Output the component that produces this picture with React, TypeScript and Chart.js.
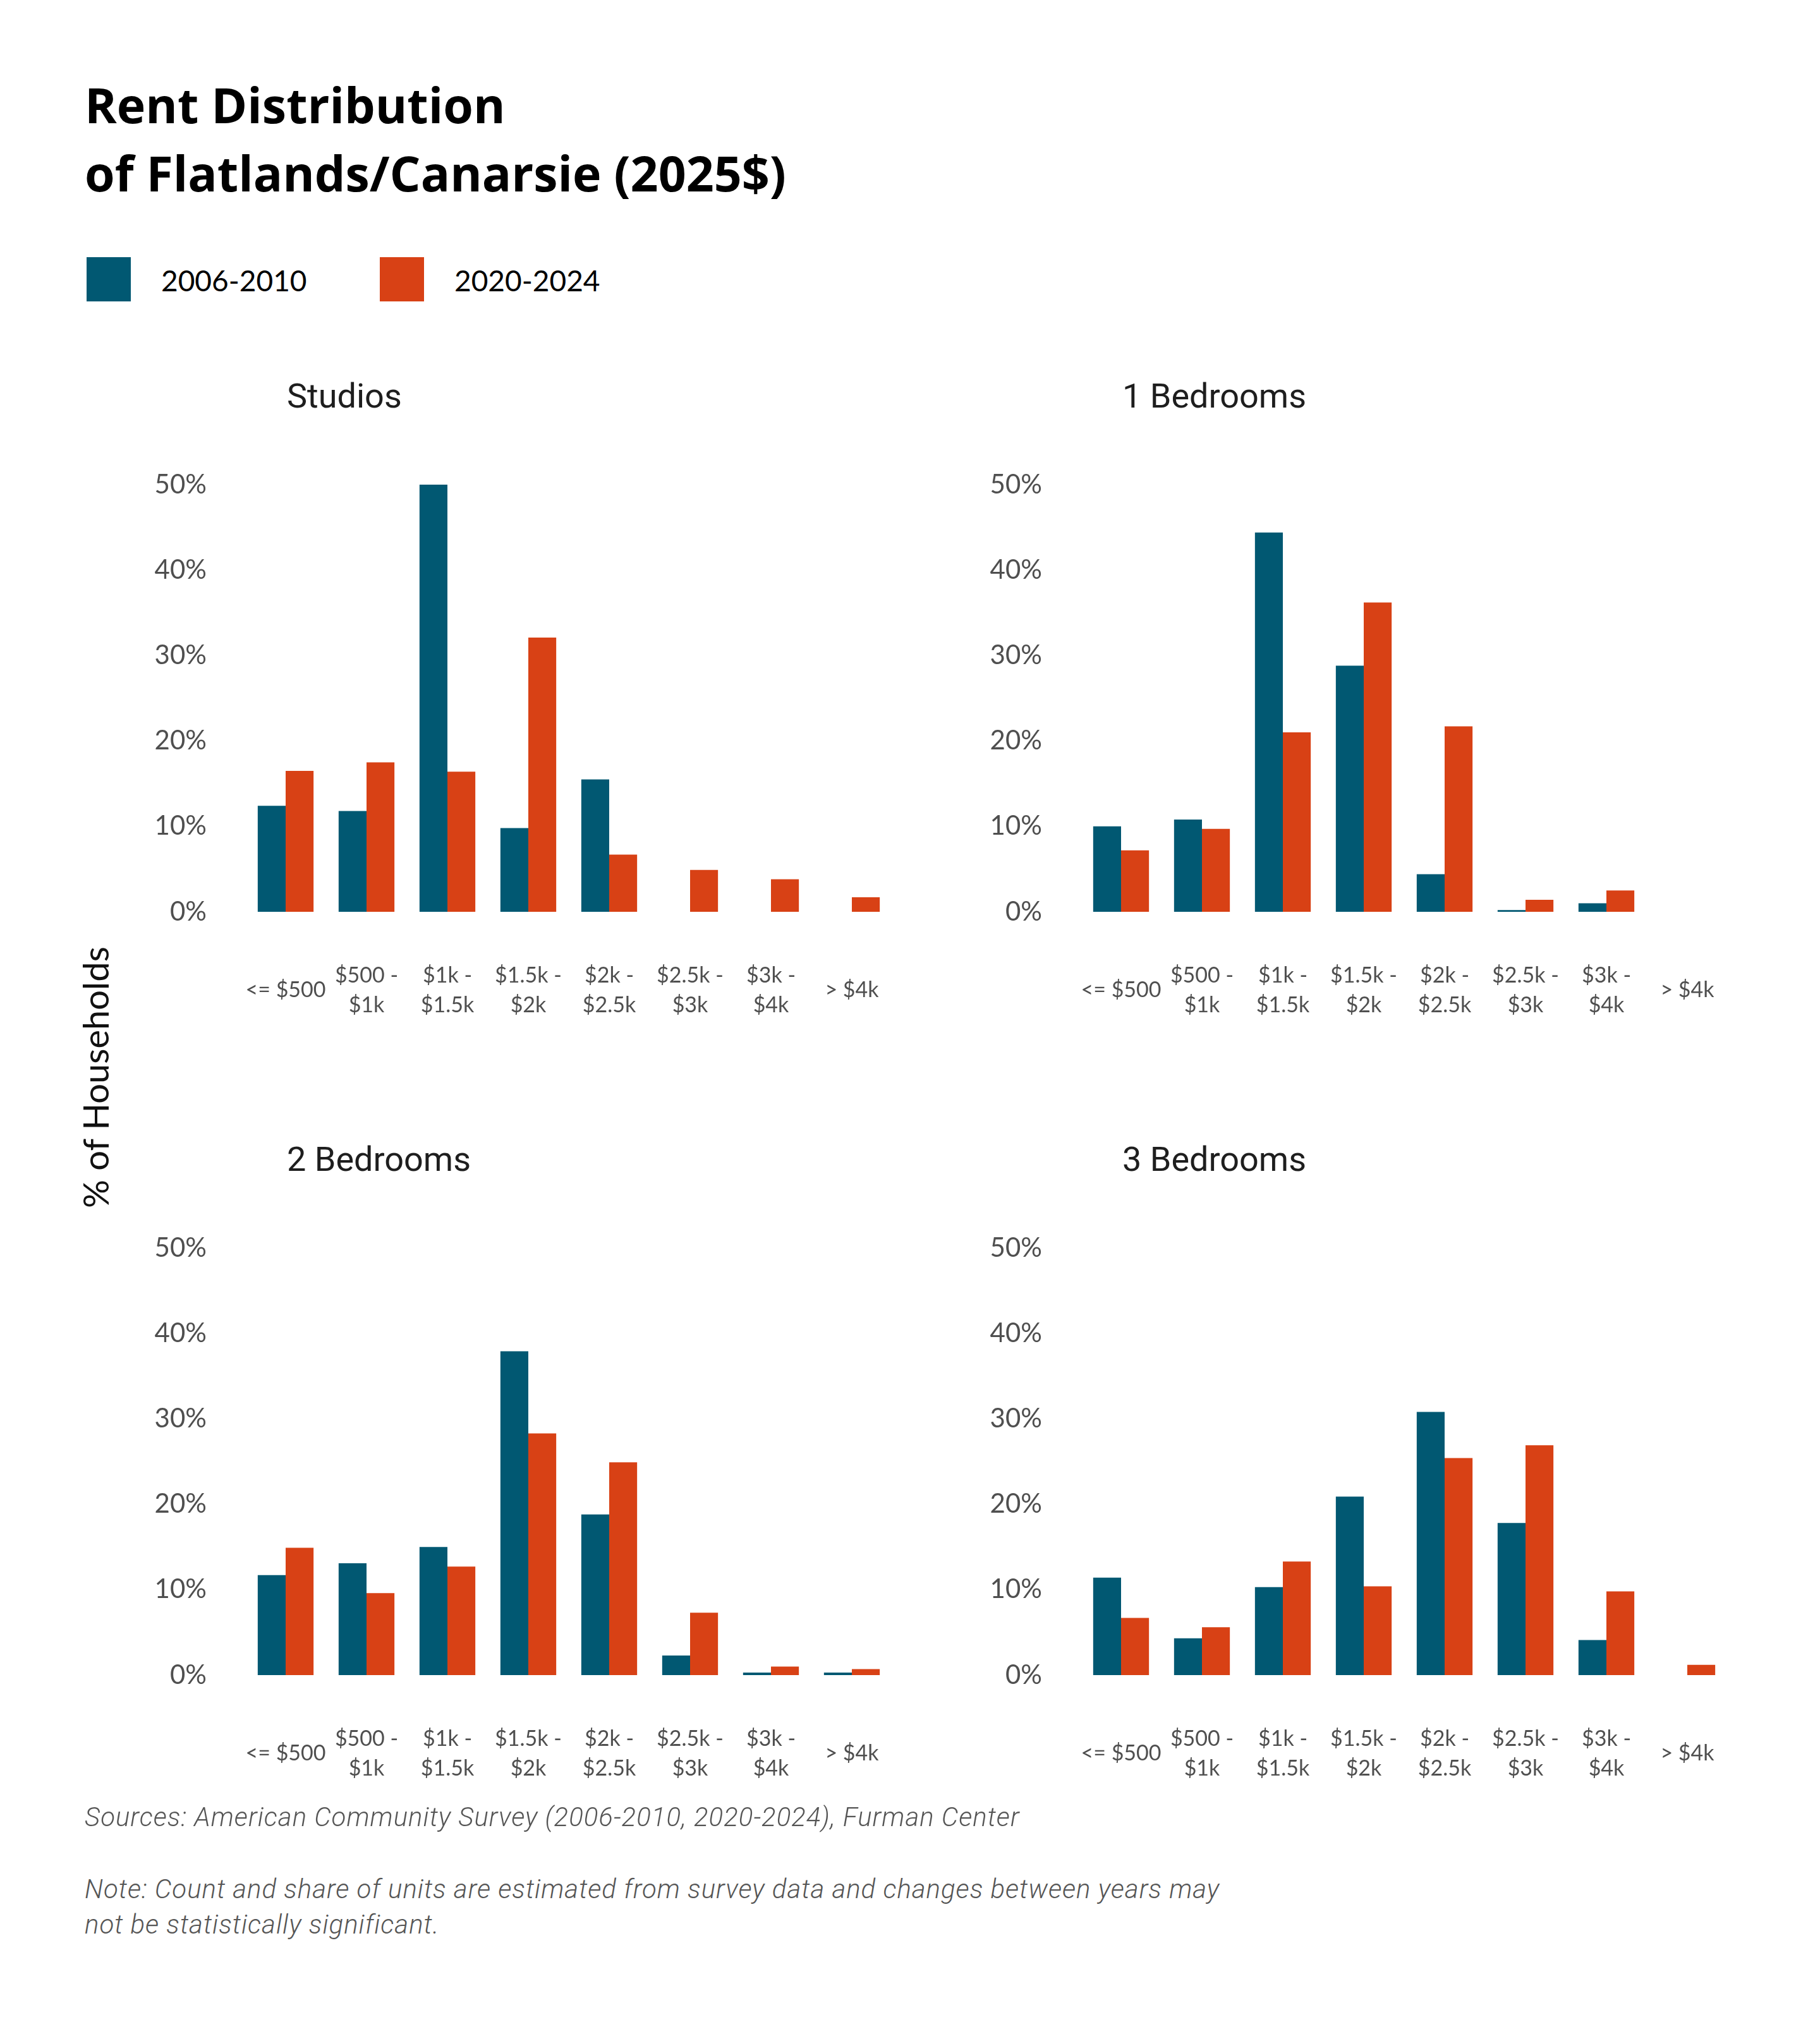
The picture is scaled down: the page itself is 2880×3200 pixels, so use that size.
import { useEffect, useRef } from "react";
import { Chart, registerables, type ChartConfiguration } from "chart.js";

Chart.register(...registerables);

const rentBands: (string | string[])[] = [
  "<= $500",
  ["$500 -", "$1k"],
  ["$1k -", "$1.5k"],
  ["$1.5k -", "$2k"],
  ["$2k -", "$2.5k"],
  ["$2.5k -", "$3k"],
  ["$3k -", "$4k"],
  "> $4k",
];

const periods = ["2006-2010", "2020-2024"];
const yTicks = [0, 10, 20, 30, 40, 50];

const studios2010 = [12.4, 11.8, 50.0, 9.8, 15.5, 0, 0, 0];
const studios2024 = [16.5, 17.5, 16.4, 32.1, 6.7, 4.9, 3.8, 1.7];
const oneBed2010 = [10.0, 10.8, 44.4, 28.8, 4.4, 0.2, 1.0, 0];
const oneBed2024 = [7.2, 9.7, 21.0, 36.2, 21.7, 1.4, 2.5, 0];
const twoBed2010 = [11.7, 13.1, 15.0, 37.9, 18.8, 2.3, 0.3, 0.3];
const twoBed2024 = [14.9, 9.6, 12.7, 28.3, 24.9, 7.3, 1.0, 0.7];
const threeBed2010 = [11.4, 4.3, 10.3, 20.9, 30.8, 17.8, 4.1, 0];
const threeBed2024 = [6.7, 5.6, 13.3, 10.4, 25.4, 26.9, 9.8, 1.2];

const BLUE = "#015872";
const RED = "#d84115";
const TICK_GREY = "#4f4f4f";

// geometry of one small-multiple (page px)
const PANEL_W = 1240;
const PANEL_H = 943;
const Y_AXIS_W = 188;
const X_AXIS_H = 200;

function Panel({
  title,
  older,
  newer,
  left,
  top,
}: {
  title: string;
  older: number[];
  newer: number[];
  left: number;
  top: number;
}) {
  const canvasRef = useRef<HTMLCanvasElement>(null);
  const chartRef = useRef<Chart | null>(null);

  useEffect(() => {
    if (!canvasRef.current) return;
    const cfg: ChartConfiguration<"bar", number[], string | string[]> = {
      type: "bar",
      data: {
        labels: rentBands,
        datasets: [
          { label: periods[0], data: older, backgroundColor: BLUE, borderWidth: 0 },
          { label: periods[1], data: newer, backgroundColor: RED, borderWidth: 0 },
        ],
      },
      options: {
        animation: false,
        responsive: true,
        maintainAspectRatio: false,
        layout: { padding: { top: 67, right: 28, bottom: 0, left: 0 } },
        datasets: { bar: { categoryPercentage: 0.69, barPercentage: 1.0 } },
        scales: {
          x: {
            grid: { display: false, drawTicks: false },
            border: { display: false },
            ticks: {
              color: TICK_GREY,
              font: { family: "Lato", size: 34, lineHeight: 47 / 34 },
              padding: 101,
              maxRotation: 0,
              autoSkip: false,
              crossAlign: "center",
            },
            afterFit: (scale) => {
              scale.height = X_AXIS_H;
              scale.paddingLeft = 0;
              scale.paddingRight = 0;
            },
          },
          y: {
            min: 0,
            max: 50,
            grid: { display: false, drawTicks: false },
            border: { display: false },
            afterBuildTicks: (scale) => {
              scale.ticks = yTicks.map((v) => ({ value: v }));
            },
            ticks: {
              color: TICK_GREY,
              font: { family: "Lato", size: 42 },
              padding: 61,
              callback: (v) => `${v}%`,
            },
            afterFit: (scale) => {
              scale.width = Y_AXIS_W;
              scale.paddingTop = 0;
              scale.paddingBottom = 0;
            },
          },
        },
        plugins: {
          legend: { display: false },
          tooltip: { enabled: false },
        },
      },
    };
    chartRef.current = new Chart(canvasRef.current, cfg);
    return () => {
      chartRef.current?.destroy();
      chartRef.current = null;
    };
  }, [older, newer]);

  return (
    <>
      <div
        style={{
          position: "absolute",
          left: left + 254,
          top: top - 100,
          font: "54px Roboto",
          color: "#1e1e1e",
          lineHeight: "54px",
          whiteSpace: "nowrap",
        }}
      >
        {title}
      </div>
      <div
        style={{
          position: "absolute",
          left,
          top,
          width: PANEL_W,
          height: PANEL_H,
        }}
      >
        <canvas ref={canvasRef} />
      </div>
    </>
  );
}

export default function App() {
  return (
    <div
      style={{
        position: "absolute",
        left: 0,
        top: 0,
        width: 2880,
        height: 3200,
        background: "#ffffff",
        overflow: "hidden",
      }}
    >
      <div
        style={{
          position: "absolute",
          left: 134,
          top: 112,
          font: "700 77px 'Open Sans'",
          lineHeight: "108px",
          color: "#000",
        }}
      >
        Rent Distribution
        <br />
        of Flatlands/Canarsie (2025$)
      </div>

      {/* legend */}
      {[BLUE, RED].map((c, i) => (
        <div key={periods[i]}>
          <div
            style={{
              position: "absolute",
              left: 137 + i * 464,
              top: 407,
              width: 70,
              height: 70,
              background: c,
            }}
          />
          <div
            style={{
              position: "absolute",
              left: 255 + i * 464,
              top: 414,
              font: "46px Lato",
              lineHeight: "60px",
              color: "#000",
            }}
          >
            {periods[i]}
          </div>
        </div>
      ))}

      <div
        style={{
          position: "absolute",
          left: 150,
          top: 1705,
          transform: "translate(-50%, -50%) rotate(-90deg)",
          font: "56px Lato",
          color: "#111",
          whiteSpace: "nowrap",
        }}
      >
        % of Households
      </div>

      <Panel title="Studios" older={studios2010} newer={studios2024} left={200} top={700} />
      <Panel title="1 Bedrooms" older={oneBed2010} newer={oneBed2024} left={1522} top={700} />
      <Panel title="2 Bedrooms" older={twoBed2010} newer={twoBed2024} left={200} top={1908} />
      <Panel title="3 Bedrooms" older={threeBed2010} newer={threeBed2024} left={1522} top={1908} />

      <div
        style={{
          position: "absolute",
          left: 134,
          top: 2848,
          font: "italic 300 42px Roboto",
          color: "#555",
          lineHeight: "56px",
          letterSpacing: "1px",
          whiteSpace: "nowrap",
        }}
      >
        Sources: American Community Survey (2006-2010, 2020-2024), Furman Center
      </div>
      <div
        style={{
          position: "absolute",
          left: 134,
          top: 2962,
          font: "italic 300 42px Roboto",
          color: "#555",
          lineHeight: "56px",
          letterSpacing: "1px",
          whiteSpace: "nowrap",
        }}
      >
        Note: Count and share of units are estimated from survey data and changes between years may
        <br />
        not be statistically significant.
      </div>
    </div>
  );
}
